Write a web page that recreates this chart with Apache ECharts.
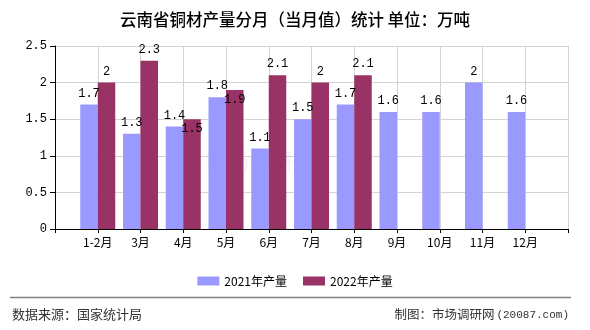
<!DOCTYPE html>
<html>
<head>
<meta charset="utf-8">
<script src="https://cdn.jsdelivr.net/npm/echarts@6/dist/echarts.min.js"></script>
<style>
  html, body { margin: 0; padding: 0; background: #fff; }
  #chart { width: 590px; height: 330px; }
</style>
</head>
<body>
<div id="chart"></div>
<script>
// Monthly copper product output in Yunnan (10k tonnes)
const months = ['1-2月', '3月', '4月', '5月', '6月', '7月', '8月', '9月', '10月', '11月', '12月'];
const output2021 = [1.7, 1.3, 1.4, 1.8, 1.1, 1.5, 1.7, 1.6, 1.6, 2, 1.6];
const output2022 = [2, 2.3, 1.5, 1.9, 2.1, 2, 2.1];
const seriesNames = ['2021年产量', '2022年产量'];
const yTicks = [0, 0.5, 1, 1.5, 2, 2.5];

// Empty slots on both ends so the bars sit on the grid lines
const categories = [''].concat(months, ['']);
function pad(arr) {
  const out = [null];
  for (let i = 0; i < months.length; i++) out.push(i < arr.length ? arr[i] : null);
  out.push(null);
  return out;
}

// Labels that would collide with the neighbouring bar's label go inside the bar
const insideLabelIdx = { 3: true, 4: true };
function buildData(arr, inside) {
  return pad(arr).map((v, i) => {
    if (v === null) return null;
    if (inside && inside[i]) {
      return { value: v, label: { position: 'insideTop', distance: 4 } };
    }
    return v;
  });
}

const mono = '"Liberation Mono", "DejaVu Sans Mono", monospace';
const labelFont = { fontFamily: mono, fontSize: 12, color: '#000' };
const cjk = '"Noto Sans CJK SC", "Noto Sans", sans-serif';

const chart = echarts.init(document.getElementById('chart'), null, { renderer: 'canvas' });
chart.setOption({
  animation: false,
  backgroundColor: '#fff',
  title: {
    text: '云南省铜材产量分月（当月值）统计 单位：万吨',
    left: 'center',
    top: 6,
    textStyle: { fontFamily: cjk, fontSize: 16.5, fontWeight: 500, color: '#000' }
  },
  legend: {
    data: seriesNames,
    left: 'center',
    top: 270,
    itemWidth: 22,
    itemHeight: 9,
    itemGap: 16,
    icon: 'rect',
    textStyle: { fontFamily: cjk, fontSize: 12, color: '#000' }
  },
  grid: { left: 55, right: 22, top: 46, bottom: 101, containLabel: false },
  xAxis: {
    type: 'category',
    data: categories,
    boundaryGap: false,
    axisLine: { lineStyle: { color: '#000', width: 1 } },
    axisTick: { show: true, length: 4, interval: 0, lineStyle: { color: '#000' } },
    axisLabel: { interval: 0, margin: 7, fontFamily: cjk, fontSize: 12, color: '#000' },
    splitLine: { show: true, interval: 0, lineStyle: { color: '#d3d3d3', width: 1 } }
  },
  yAxis: {
    type: 'value',
    min: yTicks[0],
    max: yTicks[yTicks.length - 1],
    interval: 0.5,
    axisLine: { show: true, lineStyle: { color: '#000', width: 1 } },
    axisTick: { show: true, length: 5, lineStyle: { color: '#000' } },
    axisLabel: { margin: 8, fontFamily: mono, fontSize: 12, color: '#000' },
    splitLine: { show: true, lineStyle: { color: '#d3d3d3', width: 1 } }
  },
  series: [
    {
      name: seriesNames[0],
      type: 'bar',
      data: buildData(output2021),
      barWidth: 17.5,
      barGap: '0%',
      itemStyle: { color: '#9999ff' },
      label: Object.assign({ show: true, position: 'top', distance: 5 }, labelFont)
    },
    {
      name: seriesNames[1],
      type: 'bar',
      data: buildData(output2022, insideLabelIdx),
      barWidth: 17.5,
      barGap: '0%',
      itemStyle: { color: '#993366' },
      label: Object.assign({ show: true, position: 'top', distance: 5 }, labelFont)
    }
  ],
  graphic: [
    {
      type: 'text', left: 205, top: 150, silent: true, z: 0,
      style: { text: '市场调研网', font: '22px ' + cjk, fill: 'rgba(190,190,200,0.18)' }
    },
    {
      type: 'line', silent: true,
      shape: { x1: 10, y1: 297.5, x2: 571, y2: 297.5 },
      style: { stroke: '#808080', lineWidth: 1.5 }
    },
    {
      type: 'text', left: 12, top: 308, silent: true,
      style: { text: '数据来源：国家统计局', font: '13px ' + cjk, fill: '#333' }
    },
    {
      type: 'text', right: 21, top: 308, silent: true,
      style: {
        text: '{a|制图：市场调研网}{b|(20087.com)}',
        rich: {
          a: { fontFamily: cjk, fontSize: 12.5, fill: '#333', color: '#333' },
          b: { fontFamily: mono, fontSize: 11, fill: '#333', color: '#333', padding: [1, 0, 0, 2] }
        }
      }
    }
  ]
});
</script>
</body>
</html>
